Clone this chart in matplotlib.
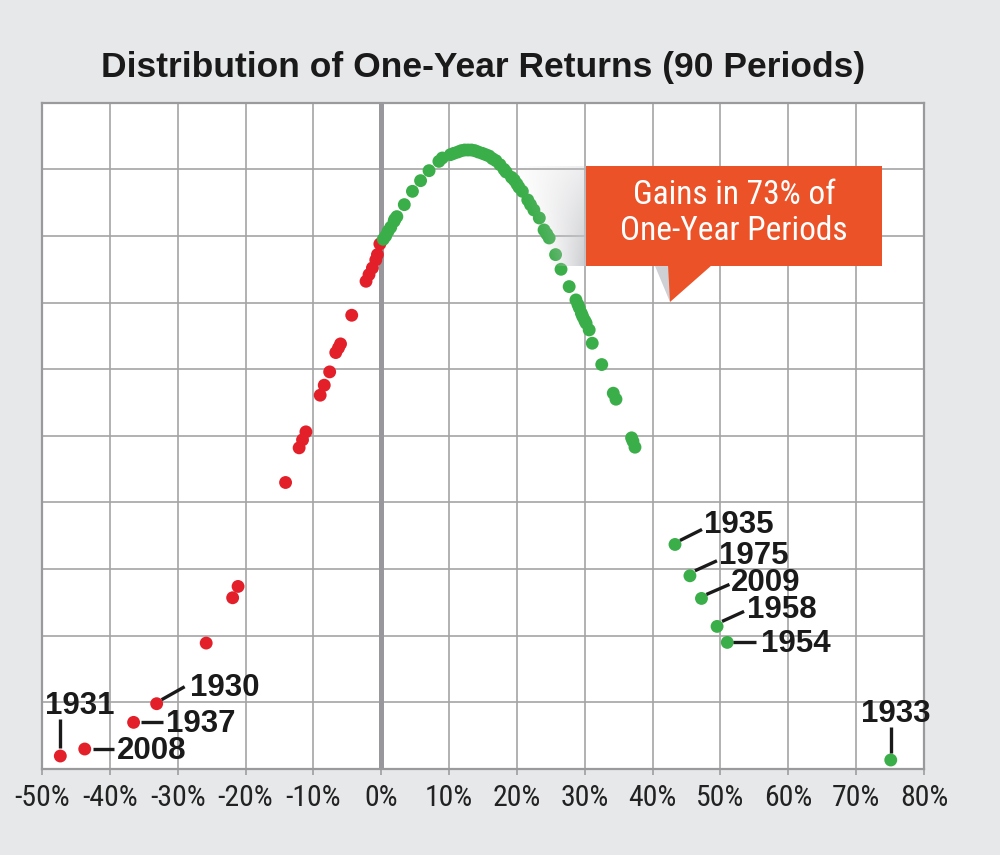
import numpy as np
import matplotlib
matplotlib.use("Agg")
import matplotlib.pyplot as plt
from matplotlib.transforms import Affine2D
from matplotlib.patches import Polygon, Rectangle

# ---------------- data ----------------
loss_returns = [-47.3, -43.7, -36.5, -33.1, -25.8, -21.9, -21.1, -14.1, -12.1, -11.6,
                -11.1, -9.0, -8.4, -7.6, -6.7, -6.3, -6.0, -4.35, -2.24, -1.8,
                -1.3, -0.8, -0.56, -0.2]
loss_heights = [0.195, 0.30, 0.70, 0.98, 1.89, 2.57, 2.74, 4.30, 4.82, 4.94,
                5.06, 5.61, 5.76, 5.96, 6.25, 6.32, 6.38, 6.81, 7.32, 7.42,
                7.52, 7.64, 7.72, 7.88]

gain_returns = [0.3, 0.66, 1.0, 1.4, 1.9, 2.0, 2.3, 3.4, 4.6, 5.8,
                7.05, 8.5, 9.0, 10.2, 10.7, 11.3, 11.8, 12.3, 12.8, 13.3,
                13.8, 14.3, 14.9, 15.4, 15.9, 16.4, 16.9, 17.5, 18.1, 18.4,
                19.2, 19.6, 20.0, 20.3, 20.8, 21.6, 22.0, 22.5, 23.3, 24.0,
                24.4, 24.75, 25.7, 26.5, 27.7, 28.7, 29.0, 29.2, 29.5, 29.7,
                30.0, 30.2, 30.65, 31.1, 32.5, 34.2, 34.6, 36.9, 37.1, 37.4,
                43.3, 45.5, 47.2, 49.5, 51.0, 75.1]
gain_heights = [7.95, 8.00, 8.07, 8.13, 8.22, 8.25, 8.29, 8.47, 8.67, 8.83,
                8.98, 9.12, 9.17, 9.22, 9.24, 9.26, 9.28, 9.29, 9.29, 9.29,
                9.28, 9.26, 9.24, 9.22, 9.20, 9.16, 9.13, 9.07, 9.00, 8.96,
                8.88, 8.84, 8.78, 8.73, 8.67, 8.54, 8.47, 8.39, 8.27, 8.09,
                8.03, 7.97, 7.72, 7.50, 7.24, 7.04, 6.97, 6.92, 6.84, 6.79,
                6.73, 6.69, 6.59, 6.39, 6.07, 5.64, 5.55, 4.97, 4.92, 4.83,
                3.37, 2.90, 2.56, 2.14, 1.90, 0.135]

label_years = ["1931", "2008", "1937", "1930", "1935", "1975", "2009", "1958", "1954", "1933"]
label_returns = [-47.3, -43.7, -36.5, -33.1, 43.3, 45.5, 47.2, 49.5, 51.0, 75.1]
label_heights = [0.195, 0.30, 0.70, 0.98, 3.37, 2.90, 2.56, 2.14, 1.90, 0.135]

x_ticks = [-50, -40, -30, -20, -10, 0, 10, 20, 30, 40, 50, 60, 70, 80]
x_tick_labels = [f"{t}%" for t in x_ticks]

title_text = "Distribution of One-Year Returns (90 Periods)"
callout_text = "Gains in 73% of\nOne-Year Periods"

# ---------------- style ----------------
W, H = 1000, 855
BG = "#e7e8ea"
GRID = "#a4a4a6"
RED = "#e3202a"
GREEN = "#3aae49"
ORANGE = "#eb5228"
NARROW = ["Roboto Condensed", "DejaVu Sans"]
BOLD = ["Liberation Sans", "DejaVu Sans"]

# label styles: (line start dx,dy), (line end dx,dy), (text dx,dy baseline), ha   [pixels, y down]
label_style = {
    "1931": ((0, -8), (0, -37), (19, -42), "center"),
    "2008": ((8, 0), (29, 0), (32, 10), "left"),
    "1937": ((7, 0), (29, 0), (32, 10), "left"),
    "1930": ((5, -4), (28, -17), (33, -8), "left"),
    "1935": ((5, -4), (27, -15), (29, -11), "left"),
    "1975": ((5, -5), (27, -15), (29, -12), "left"),
    "2009": ((5, -4), (28, -14), (29, -7), "left"),
    "1958": ((5, -5), (27, -15), (30, -8), "left"),
    "1954": ((6, 0), (29, 0), (34, 10), "left"),
    "1933": ((0, -7), (0, -33), (5, -38), "center"),
}

fig = plt.figure(figsize=(W / 100, H / 100), dpi=100, facecolor=BG)
ax_l, ax_r, ax_t, ax_b = 42, 924, 102.7, 769
ax = fig.add_axes([ax_l / W, (H - ax_b) / H, (ax_r - ax_l) / W, (ax_b - ax_t) / H])
ax.set_facecolor("white")
ax.set_xlim(-50, 80)
ax.set_ylim(0, 10)
ax.set_xticks(x_ticks)
ax.set_xticklabels(x_tick_labels, fontfamily=NARROW, fontsize=21.5, color="#222222")
ax.set_yticks(np.arange(0, 11, 1))
ax.set_yticklabels([])
ax.tick_params(axis="x", length=4, width=1.3, color=GRID, pad=7)
ax.tick_params(axis="y", length=0)
ax.grid(True, color=GRID, lw=1.2, zorder=0)
ax.set_axisbelow(True)
for s in ax.spines.values():
    s.set_color("#9a9a9c")
    s.set_linewidth(1.6)
ax.axvline(0, color="#98989c", lw=3.6, zorder=1)

# image-pixel transform (y down) -> display
T = Affine2D().scale(1, -1).translate(0, H)

ax.scatter(loss_returns, loss_heights, s=86, color=RED, edgecolors="none", zorder=3)
ax.scatter(gain_returns, gain_heights, s=86, color=GREEN, edgecolors="none", zorder=3)

# shadow gradient left of the callout
gx0, gx1, gy0, gy1 = 500, 586, 166, 266
nx, ny = 172, 200
xs = np.linspace(gx0, gx1, nx)[None, :]
v = np.linspace(0, 1, ny)[:, None]
xl = 508 + 42 * v
alpha = np.clip((xs - xl) / (gx1 - xl), 0, 1) ** 1.1 * (0.3 + 0.6 * v)
img = np.zeros((ny, nx, 4))
img[..., 0] = 0.77
img[..., 1] = 0.775
img[..., 2] = 0.79
img[..., 3] = alpha
im = ax.imshow(img, extent=(gx0, gx1, H - gy1, H - gy0), transform=None,
               origin="upper", zorder=4, interpolation="bilinear", aspect="auto")
im.set_clip_on(False)

# callout box + pointer
ax.add_patch(Polygon([(655, 266), (670, 266), (670, 302)], closed=True,
                     facecolor="#cfd0d3", edgecolor="none", transform=T, zorder=5, clip_on=False))
ax.add_patch(Rectangle((586, 166), 295.7, 100, facecolor=ORANGE, edgecolor="none",
                       transform=T, zorder=5, clip_on=False))
ax.add_patch(Polygon([(668, 265), (712, 265), (670, 302)], closed=True,
                     facecolor=ORANGE, edgecolor="none", transform=T, zorder=5, clip_on=False))
fig.text(734 / W, 1 - 213 / H, callout_text, ha="center", va="center", color="white",
         fontfamily=NARROW, fontsize=24, linespacing=1.17, zorder=6)

# year labels
def shifted(x, y, dx, dy):
    px, py = ax.transData.transform((x, y))
    return ax.transData.inverted().transform((px + dx, py - dy))

for yr, xr, hr in zip(label_years, label_returns, label_heights):
    a, b, t, ha = label_style[yr]
    p0 = shifted(xr, hr, *a)
    p1 = shifted(xr, hr, *b)
    ax.plot([p0[0], p1[0]], [p0[1], p1[1]], color="#1a1a1a", lw=2.4, zorder=3,
            solid_capstyle="butt", clip_on=False)
    pt = shifted(xr, hr, *t)
    ax.text(pt[0], pt[1], yr, ha=ha, va="baseline", fontfamily=BOLD, fontweight="bold",
            fontsize=22.5, color="#1a1a1a", zorder=6, clip_on=False)

fig.text(483 / W, 1 - 77 / H, title_text, ha="center", va="baseline",
         fontfamily=BOLD, fontweight="bold", fontsize=25.5, color="#1a1a1a")

fig.savefig("out.png", dpi=100, facecolor=BG)
